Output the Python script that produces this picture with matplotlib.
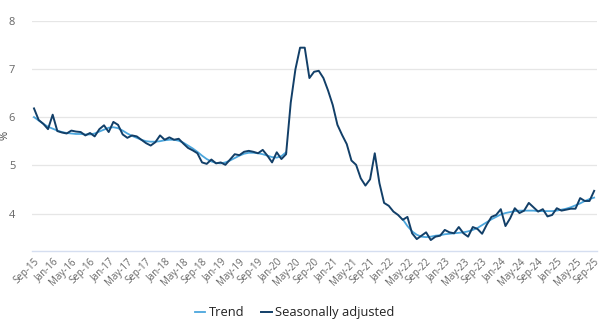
import numpy as np
import pandas as pd
import matplotlib
matplotlib.use("Agg")
import matplotlib.pyplot as plt

plt.rcParams['font.family'] = ['Open Sans', 'DejaVu Sans']

# monthly, Sep-15 .. Sep-25
months = pd.date_range("2015-09-01", "2025-09-01", freq="MS")
labels = [d.strftime("%b-%y") for d in months]

# seasonally adjusted unemployment rate (%)
sa = [6.18, 5.94, 5.86, 5.75, 6.05, 5.71, 5.68, 5.66, 5.72, 5.70, 5.69, 5.62,
      5.67, 5.60, 5.75, 5.83, 5.69, 5.90, 5.84, 5.64, 5.57, 5.62, 5.60, 5.53,
      5.46, 5.41, 5.48, 5.62, 5.53, 5.58, 5.53, 5.55, 5.45, 5.36, 5.31, 5.25,
      5.06, 5.03, 5.12, 5.04, 5.06, 5.01, 5.12, 5.23, 5.21, 5.28, 5.30, 5.28,
      5.25, 5.32, 5.20, 5.06, 5.27, 5.13, 5.23, 6.30, 6.99, 7.44, 7.44, 6.81,
      6.94, 6.96, 6.81, 6.55, 6.25, 5.84, 5.63, 5.44, 5.10, 5.01, 4.73, 4.58,
      4.71, 5.25, 4.63, 4.22, 4.16, 4.04, 3.97, 3.87, 3.93, 3.59, 3.47, 3.54,
      3.61, 3.45, 3.52, 3.54, 3.66, 3.61, 3.59, 3.72, 3.59, 3.52, 3.72, 3.68,
      3.58, 3.77, 3.93, 3.97, 4.09, 3.74, 3.90, 4.11, 4.01, 4.06, 4.22, 4.13,
      4.04, 4.09, 3.94, 3.97, 4.11, 4.06, 4.08, 4.10, 4.10, 4.32, 4.26, 4.26,
      4.47]

# trend series (suspended Apr-20 .. Mar-22)
trend_pre = [6.00, 5.93, 5.86, 5.80, 5.76, 5.72, 5.69, 5.67, 5.66, 5.65, 5.65,
             5.64, 5.64, 5.66, 5.70, 5.74, 5.78, 5.79, 5.77, 5.72, 5.66, 5.61,
             5.57, 5.53, 5.50, 5.49, 5.49, 5.50, 5.52, 5.53, 5.53, 5.51, 5.47,
             5.41, 5.35, 5.28, 5.20, 5.13, 5.08, 5.05, 5.04, 5.06, 5.10, 5.15,
             5.20, 5.24, 5.26, 5.26, 5.25, 5.23, 5.20, 5.17, 5.16, 5.19, 5.27]
trend_post = [3.88, 3.74, 3.63, 3.56, 3.52, 3.51, 3.52, 3.54, 3.55, 3.57, 3.58,
              3.59, 3.60, 3.61, 3.63, 3.66, 3.70, 3.76, 3.82, 3.88, 3.93, 3.98,
              4.01, 4.03, 4.05, 4.06, 4.06, 4.06, 4.06, 4.05, 4.05, 4.05, 4.05,
              4.06, 4.08, 4.10, 4.13, 4.17, 4.21, 4.26, 4.30, 4.33]

n = len(months)
gap = n - len(trend_pre) - len(trend_post)
trend = trend_pre + [np.nan] * gap + trend_post
x = np.arange(n)

fig = plt.figure(figsize=(6.02, 3.23), dpi=100)
ax = fig.add_axes([0.053, 0.224, 0.939, 0.712])

ax.plot(x, trend, color='#4ba6dd', lw=1.3, label='Trend')
ax.plot(x, sa, color='#123f68', lw=1.4, label='Seasonally adjusted')

ax.set_xlim(-0.45, n - 1 + 0.65)
ax.set_ylim(3.23, 8.0)
ax.set_yticks([4, 5, 6, 7, 8])
ax.grid(axis='y', color='#e6e6e6', lw=0.9)
ax.set_axisbelow(True)

for s in ['top', 'right', 'left']:
    ax.spines[s].set_visible(False)
ax.spines['bottom'].set_color('#d5def0')
ax.spines['bottom'].set_linewidth(1.0)

ticks = x[::4]
ax.set_xticks(ticks)
ax.set_xticklabels([labels[i] for i in ticks], rotation=45, ha='right',
                   rotation_mode='anchor', fontsize=7, color='#666666')
ax.tick_params(axis='x', length=0, pad=4)
ax.tick_params(axis='y', length=0, labelsize=8, labelcolor='#666666', pad=12)

fig.text(0.009, 0.58, '%', rotation=90, fontsize=8, color='#444444',
         va='center', ha='center')

ax.legend(loc='center', bbox_to_anchor=(0.465, -0.27), ncol=2,
          frameon=False, fontsize=9.3, handlelength=0.8, handletextpad=0.3,
          columnspacing=1.3, labelcolor='#222222')

fig.savefig('out.png', dpi=100)
